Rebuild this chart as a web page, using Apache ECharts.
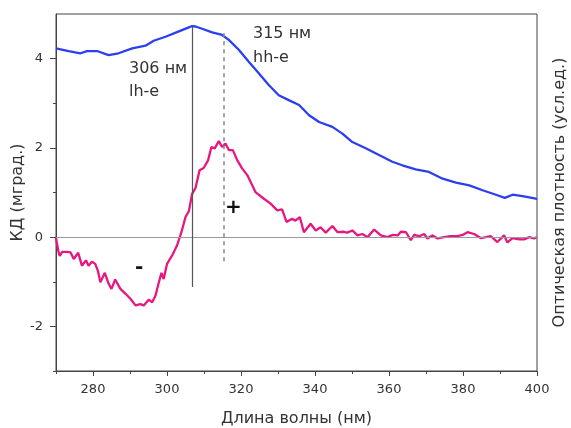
<!DOCTYPE html>
<html>
<head>
<meta charset="utf-8">
<script src="https://cdn.jsdelivr.net/npm/echarts@6/dist/echarts.min.js"></script>
<style>html,body{margin:0;padding:0;background:#fff;}#c{width:571px;height:428px;}</style>
</head>
<body>
<div id="c"></div>
<script>
// CD spectrum (pink)
const cdNm = [270.0,270.6,271.0,271.7,273.0,273.9,274.8,276.0,277.0,278.1,278.8,279.7,280.6,281.3,282.0,283.2,284.2,285.0,286.0,287.4,288.8,290.1,291.5,292.8,293.7,295.1,296.0,296.9,297.8,298.5,299.1,300.0,301.4,302.7,303.9,305.0,305.9,306.8,307.7,308.8,309.9,311.1,312.0,312.9,314.0,314.9,315.8,316.7,317.8,319.0,320.3,321.7,323.9,326.2,328.0,329.8,331.1,332.3,333.8,334.7,335.9,337.0,338.8,340.2,341.5,342.9,344.7,346.1,347.8,348.7,350.1,351.5,352.8,354.2,356.0,357.8,359.6,361.0,362.4,363.2,364.6,365.9,366.8,368.2,369.5,370.4,371.7,373.1,374.9,376.7,378.5,379.9,381.2,383.0,384.8,386.2,387.5,389.3,391.1,392.0,393.4,395.2,396.5,397.9,399.2,400.0];
const cdVal = [-0.02,-0.30,-0.42,-0.33,-0.33,-0.34,-0.49,-0.35,-0.64,-0.52,-0.64,-0.55,-0.60,-0.75,-1.01,-0.80,-1.04,-1.16,-0.95,-1.16,-1.27,-1.38,-1.53,-1.50,-1.53,-1.40,-1.46,-1.31,-1.01,-0.80,-0.94,-0.60,-0.41,-0.19,0.11,0.45,0.58,0.97,1.10,1.50,1.55,1.72,2.02,1.99,2.15,2.02,2.10,1.95,1.95,1.72,1.54,1.39,1.01,0.86,0.75,0.60,0.62,0.34,0.41,0.37,0.45,0.11,0.30,0.15,0.22,0.10,0.25,0.11,0.12,0.10,0.15,0.04,0.07,0.00,0.17,0.04,0.00,0.05,0.04,0.12,0.11,-0.07,0.05,0.02,0.07,-0.03,0.04,-0.03,0.00,0.02,0.02,0.05,0.11,0.07,-0.02,0.00,0.02,-0.11,0.04,-0.12,-0.02,-0.05,-0.05,0.00,-0.03,0.00];

// Optical density (blue), drawn in the left-axis scale
const absNm = [270,273.4,276.6,278.4,281.1,284.2,286.9,290.6,294.2,296.4,299.6,303.2,305.9,306.8,307.7,309.5,312.2,314.9,316.7,319.4,322.1,324.8,327.5,330.2,332.9,335.7,338.4,341.1,344.7,347.4,350.1,353.7,357.3,360.9,363.6,367.2,370.8,374.5,378.1,381.7,385.3,388.9,391.3,391.6,393.4,396.1,399.7,400];
const absVal = [4.23,4.17,4.12,4.17,4.17,4.08,4.12,4.23,4.29,4.40,4.49,4.61,4.70,4.73,4.72,4.67,4.59,4.53,4.42,4.20,3.93,3.67,3.41,3.18,3.07,2.96,2.73,2.58,2.47,2.32,2.13,1.99,1.84,1.69,1.61,1.52,1.46,1.31,1.22,1.16,1.05,0.95,0.88,0.91,0.95,0.92,0.86,0.85];

// Ticks
const xMajor = [280,300,320,340,360,380,400];
const xMinor = [270,290,310,330,350,370,390];
const yMajor = [-2,0,2,4];
const yMinor = [-3,-1,1,3];

// Marker lines: [wavelength, bottom value, top value]
const lhLine = [306.8, -1.12, 4.72];
const hhLine = [315.4, -0.54, 4.57];

const FONT = 'DejaVu Sans';
const chart = echarts.init(document.getElementById('c'), null, {renderer: 'canvas'});

const pair = (xs, ys) => xs.map((x, i) => [x, ys[i]]);

const option = {
  animation: false,
  backgroundColor: '#fff',
  textStyle: {fontFamily: FONT},
  grid: {left: 56, right: 34, top: 14, bottom: 57, containLabel: false, outerBoundsMode: 'none', show: true, borderColor: '#444', borderWidth: 1, backgroundColor: 'transparent'},
  xAxis: [
    {
      type: 'value', min: 270, max: 400, position: 'bottom',
      name: 'Длина волны (нм)', nameLocation: 'middle', nameGap: 40, nameMoveOverlap: false,
      nameTextStyle: {fontFamily: FONT, fontSize: 16, color: '#333'},
      axisLine: {show: true, onZero: false, lineStyle: {color: '#444', width: 1}},
      axisTick: {show: true, inside: false, length: 5, customValues: xMajor, lineStyle: {color: '#444'}},
      axisLabel: {show: true, customValues: xMajor, margin: 12, fontFamily: FONT, fontSize: 13, color: '#333'},
      splitLine: {show: false}
    },
    {
      type: 'value', min: 270, max: 400, position: 'bottom',
      axisLine: {show: false, onZero: false},
      axisTick: {show: true, inside: false, length: 3, customValues: xMinor, lineStyle: {color: '#444'}},
      axisLabel: {show: false},
      splitLine: {show: false}
    }
  ],
  yAxis: [
    {
      type: 'value', min: -3, max: 5, position: 'left',
      name: 'КД (мград.)', nameLocation: 'middle', nameGap: 30, nameRotate: 90, nameMoveOverlap: false,
      nameTextStyle: {fontFamily: FONT, fontSize: 16, color: '#333'},
      axisLine: {show: true, onZero: false, lineStyle: {color: '#444', width: 1}},
      axisTick: {show: true, inside: false, length: 6, customValues: yMajor, lineStyle: {color: '#444'}},
      axisLabel: {show: true, customValues: yMajor, margin: 13, fontFamily: FONT, fontSize: 13, color: '#333'},
      splitLine: {show: false}
    },
    {
      type: 'value', min: -3, max: 5, position: 'left',
      axisLine: {show: false, onZero: false},
      axisTick: {show: true, inside: false, length: 3, customValues: yMinor, lineStyle: {color: '#444'}},
      axisLabel: {show: false},
      splitLine: {show: false}
    },
    {
      type: 'value', min: -3, max: 5, position: 'right',
      name: 'Оптическая плотность (усл.ед.)', nameLocation: 'middle', nameGap: 15, nameRotate: 90, nameMoveOverlap: false,
      nameTextStyle: {fontFamily: FONT, fontSize: 16, color: '#333'},
      axisLine: {show: false, onZero: false},
      axisTick: {show: false},
      axisLabel: {show: false},
      splitLine: {show: false}
    }
  ],
  series: [
    {
      name: 'zero', type: 'line', data: [], silent: true,
      markLine: {
        silent: true, symbol: 'none', animation: false,
        label: {show: false},
        lineStyle: {color: '#999', width: 1, type: 'solid'},
        data: [{yAxis: 0}]
      }
    },
    {
      name: 'OD', type: 'line', data: pair(absNm, absVal), showSymbol: false, smooth: false,
      lineStyle: {color: '#2b3ff0', width: 2.3}, itemStyle: {color: '#2b3ff0'}, z: 3
    },
    {
      name: 'CD', type: 'line', data: pair(cdNm, cdVal), showSymbol: false, smooth: false,
      lineStyle: {color: '#e8177f', width: 2.3}, itemStyle: {color: '#e8177f'}, z: 4
    },
    {
      name: 'markers', type: 'line', data: [], silent: true,
      markLine: {
        silent: true, symbol: 'none', animation: false,
        label: {show: false},
        data: [
          [{coord: [lhLine[0], lhLine[1]], lineStyle: {color: '#555', width: 1.2, type: 'solid'}}, {coord: [lhLine[0], lhLine[2]]}],
          [{coord: [hhLine[0], hhLine[1]], lineStyle: {color: '#888', width: 1.5, type: [4, 4]}}, {coord: [hhLine[0], hhLine[2]]}]
        ]
      }
    }
  ],
  graphic: [
    {type: 'text', left: 129, top: 57, style: {text: '306 нм\nlh-e', font: '16px "DejaVu Sans"', fill: '#333', lineHeight: 23.5}},
    {type: 'text', left: 253, top: 22, style: {text: '315 нм\nhh-e', font: '16px "DejaVu Sans"', fill: '#333', lineHeight: 24}},
    {type: 'text', left: 135, top: 258, style: {text: '-', font: 'bold 20px "DejaVu Sans"', fill: '#111'}},
    {type: 'text', left: 225, top: 198, style: {text: '+', font: 'bold 20px "DejaVu Sans"', fill: '#111'}}
  ]
};
chart.setOption(option);
</script>
</body>
</html>
